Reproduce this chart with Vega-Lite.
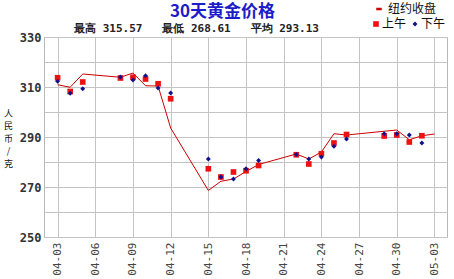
{
  "$schema": "https://vega.github.io/schema/vega-lite/v6.json",
  "width": 403,
  "height": 200,
  "autosize": "none",
  "padding": {"left": 44, "top": 37, "right": 7, "bottom": 42},
  "background": "white",
  "config": {
    "view": {"stroke": "#b8b8b8", "strokeWidth": 1},
    "font": "Noto Sans CJK SC"
  },
  "title": {
    "text": "30天黄金价格",
    "anchor": "middle",
    "frame": "group",
    "dx": -23,
    "dy": 23,
    "offset": 5,
    "font": "Noto Sans CJK SC",
    "fontSize": 17,
    "fontWeight": "bold",
    "color": "#1c1cc8"
  },
  "resolve": {"axis": {"x": "independent"}},
  "data": {
    "values": [
      {"date": "2013-04-03T00:00:00", "series": "纽约收盘", "value": 310.9},
      {"date": "2013-04-04T00:00:00", "series": "纽约收盘", "value": 309.9},
      {"date": "2013-04-05T00:00:00", "series": "纽约收盘", "value": 315.2},
      {"date": "2013-04-08T00:00:00", "series": "纽约收盘", "value": 313.9},
      {"date": "2013-04-09T00:00:00", "series": "纽约收盘", "value": 315.57},
      {"date": "2013-04-10T00:00:00", "series": "纽约收盘", "value": 310.5},
      {"date": "2013-04-11T00:00:00", "series": "纽约收盘", "value": 310.4},
      {"date": "2013-04-12T00:00:00", "series": "纽约收盘", "value": 293.6},
      {"date": "2013-04-15T00:00:00", "series": "纽约收盘", "value": 268.61},
      {"date": "2013-04-16T00:00:00", "series": "纽约收盘", "value": 272.3},
      {"date": "2013-04-17T00:00:00", "series": "纽约收盘", "value": 273.2},
      {"date": "2013-04-18T00:00:00", "series": "纽约收盘", "value": 276.2},
      {"date": "2013-04-19T00:00:00", "series": "纽约收盘", "value": 279.0},
      {"date": "2013-04-22T00:00:00", "series": "纽约收盘", "value": 283.2},
      {"date": "2013-04-23T00:00:00", "series": "纽约收盘", "value": 281.2},
      {"date": "2013-04-24T00:00:00", "series": "纽约收盘", "value": 284.0},
      {"date": "2013-04-25T00:00:00", "series": "纽约收盘", "value": 291.3},
      {"date": "2013-04-26T00:00:00", "series": "纽约收盘", "value": 290.8},
      {"date": "2013-04-29T00:00:00", "series": "纽约收盘", "value": 292.3},
      {"date": "2013-04-30T00:00:00", "series": "纽约收盘", "value": 292.8},
      {"date": "2013-05-01T00:00:00", "series": "纽约收盘", "value": 288.9},
      {"date": "2013-05-02T00:00:00", "series": "纽约收盘", "value": 290.5},
      {"date": "2013-05-03T00:00:00", "series": "纽约收盘", "value": 291.2},

      {"date": "2013-04-03T00:00:00", "series": "下午", "value": 312.3},
      {"date": "2013-04-04T00:00:00", "series": "下午", "value": 307.5},
      {"date": "2013-04-05T00:00:00", "series": "下午", "value": 309.3},
      {"date": "2013-04-08T00:00:00", "series": "下午", "value": 314.0},
      {"date": "2013-04-09T00:00:00", "series": "下午", "value": 312.8},
      {"date": "2013-04-10T00:00:00", "series": "下午", "value": 314.5},
      {"date": "2013-04-11T00:00:00", "series": "下午", "value": 309.6},
      {"date": "2013-04-12T00:00:00", "series": "下午", "value": 307.6},
      {"date": "2013-04-15T00:00:00", "series": "下午", "value": 281.2},
      {"date": "2013-04-16T00:00:00", "series": "下午", "value": 274.0},
      {"date": "2013-04-17T00:00:00", "series": "下午", "value": 273.2},
      {"date": "2013-04-18T00:00:00", "series": "下午", "value": 277.3},
      {"date": "2013-04-19T00:00:00", "series": "下午", "value": 280.6},
      {"date": "2013-04-22T00:00:00", "series": "下午", "value": 283.0},
      {"date": "2013-04-23T00:00:00", "series": "下午", "value": 281.2},
      {"date": "2013-04-24T00:00:00", "series": "下午", "value": 282.0},
      {"date": "2013-04-25T00:00:00", "series": "下午", "value": 286.3},
      {"date": "2013-04-26T00:00:00", "series": "下午", "value": 289.2},
      {"date": "2013-04-29T00:00:00", "series": "下午", "value": 291.3},
      {"date": "2013-04-30T00:00:00", "series": "下午", "value": 291.3},
      {"date": "2013-05-01T00:00:00", "series": "下午", "value": 290.8},
      {"date": "2013-05-02T00:00:00", "series": "下午", "value": 287.6},

      {"date": "2013-04-03T00:00:00", "series": "上午", "value": 313.7},
      {"date": "2013-04-04T00:00:00", "series": "上午", "value": 308.2},
      {"date": "2013-04-05T00:00:00", "series": "上午", "value": 312.0},
      {"date": "2013-04-08T00:00:00", "series": "上午", "value": 313.6},
      {"date": "2013-04-09T00:00:00", "series": "上午", "value": 313.9},
      {"date": "2013-04-10T00:00:00", "series": "上午", "value": 313.2},
      {"date": "2013-04-11T00:00:00", "series": "上午", "value": 311.3},
      {"date": "2013-04-12T00:00:00", "series": "上午", "value": 305.3},
      {"date": "2013-04-15T00:00:00", "series": "上午", "value": 277.3},
      {"date": "2013-04-16T00:00:00", "series": "上午", "value": 274.0},
      {"date": "2013-04-17T00:00:00", "series": "上午", "value": 276.0},
      {"date": "2013-04-18T00:00:00", "series": "上午", "value": 276.5},
      {"date": "2013-04-19T00:00:00", "series": "上午", "value": 278.6},
      {"date": "2013-04-22T00:00:00", "series": "上午", "value": 282.9},
      {"date": "2013-04-23T00:00:00", "series": "上午", "value": 279.2},
      {"date": "2013-04-24T00:00:00", "series": "上午", "value": 283.3},
      {"date": "2013-04-25T00:00:00", "series": "上午", "value": 287.6},
      {"date": "2013-04-26T00:00:00", "series": "上午", "value": 291.0},
      {"date": "2013-04-29T00:00:00", "series": "上午", "value": 290.4},
      {"date": "2013-04-30T00:00:00", "series": "上午", "value": 290.8},
      {"date": "2013-05-01T00:00:00", "series": "上午", "value": 288.0},
      {"date": "2013-05-02T00:00:00", "series": "上午", "value": 290.5}
    ]
  },
  "encoding": {
    "y": {
      "field": "value",
      "type": "quantitative",
      "scale": {"domain": [250, 330], "nice": false, "zero": false},
      "axis": {
        "values": [250, 260, 270, 280, 290, 300, 310, 320, 330],
        "labelExpr": "datum.value % 20 == 10 ? datum.label : ''",
        "labelFont": "DejaVu Sans Mono",
        "labelFontSize": 12,
        "labelFontWeight": "bold",
        "labelColor": "#333333",
        "labelPadding": 3,
        "ticks": false,
        "domain": false,
        "grid": true,
        "gridColor": "#c4c4c4",
        "gridOpacity": 1,
        "title": ["人", "民", "币", "/", "克"],
        "titleAngle": 0,
        "titleFont": "Noto Sans CJK SC",
        "titleFontSize": 9,
        "titleFontWeight": "normal",
        "titleColor": "#111111",
        "titleLineHeight": 12.5,
        "titleAlign": "center",
        "titleBaseline": "top",
        "titleX": -36,
        "titleY": 72
      }
    }
  },
  "layer": [
    {
      "transform": [{"filter": "datum.series == '纽约收盘'"}],
      "mark": {"type": "line", "strokeWidth": 1},
      "encoding": {
        "x": {
          "field": "date",
          "type": "temporal",
          "scale": {
            "domain": [
              {"year": 2013, "month": 4, "date": 1, "hours": 22},
              {"year": 2013, "month": 5, "date": 4, "hours": 0}
            ],
            "nice": false
          },
          "axis": {
            "title": null,
            "format": "%m-%d",
            "values": [
              {"year": 2013, "month": 4, "date": 3},
              {"year": 2013, "month": 4, "date": 6},
              {"year": 2013, "month": 4, "date": 9},
              {"year": 2013, "month": 4, "date": 12},
              {"year": 2013, "month": 4, "date": 15},
              {"year": 2013, "month": 4, "date": 18},
              {"year": 2013, "month": 4, "date": 21},
              {"year": 2013, "month": 4, "date": 24},
              {"year": 2013, "month": 4, "date": 27},
              {"year": 2013, "month": 4, "date": 30},
              {"year": 2013, "month": 5, "date": 3}
            ],
            "labelAngle": 270,
            "labelFont": "DejaVu Sans Mono",
            "labelFontSize": 11,
            "labelColor": "#444444",
            "labelPadding": 5,
            "ticks": false,
            "domain": false,
            "grid": true,
            "gridColor": "#c4c4c4",
            "gridOpacity": 1,
            "labelFlush": false,
            "labelOverlap": false
          }
        },
        "stroke": {
          "datum": "纽约收盘",
          "scale": {"range": ["#cc0000"]},
          "legend": {
            "title": null,
            "orient": "none",
            "legendX": 329,
            "legendY": -34,
            "symbolSize": 30,
            "symbolStrokeWidth": 2.5,
            "labelFont": "Noto Sans CJK SC",
            "labelFontSize": 12,
            "labelColor": "#111111",
            "labelOffset": 3
          }
        }
      }
    },
    {
      "transform": [{"filter": "datum.series != '纽约收盘'"}],
      "mark": {"type": "point", "filled": true, "opacity": 1},
      "encoding": {
        "x": {
          "field": "date",
          "type": "temporal",
          "axis": {
            "orient": "top",
            "labels": false,
            "ticks": false,
            "domain": false,
            "grid": false,
            "title": "最高 315.57\u00a0\u00a0\u00a0最低 268.61\u00a0\u00a0\u00a0平均 293.13",
            "titleFont": "DejaVu Sans Mono",
            "titleFontSize": 11,
            "titleFontWeight": "bold",
            "titleColor": "#222222",
            "titleAlign": "center",
            "titleBaseline": "middle",
            "titleX": 152,
            "titleY": -9
          }
        },
        "color": {
          "field": "series",
          "type": "nominal",
          "scale": {"domain": ["上午", "下午"], "range": ["#ee1111", "#10108a"]},
          "legend": {
            "title": null,
            "orient": "none",
            "legendX": 326,
            "legendY": -19,
            "direction": "horizontal",
            "columns": 2,
            "columnPadding": 2,
            "gridAlign": "none",
            "symbolSize": 20,
            "labelFont": "Noto Sans CJK SC",
            "labelFontSize": 12,
            "labelColor": "#111111",
            "labelOffset": 0
          }
        },
        "shape": {
          "field": "series",
          "type": "nominal",
          "scale": {"domain": ["上午", "下午"], "range": ["square", "diamond"]}
        },
        "size": {
          "field": "series",
          "type": "nominal",
          "scale": {"domain": ["上午", "下午"], "range": [32, 24]},
          "legend": null
        },
        "order": {"field": "series", "sort": "ascending"}
      }
    }
  ]
}
